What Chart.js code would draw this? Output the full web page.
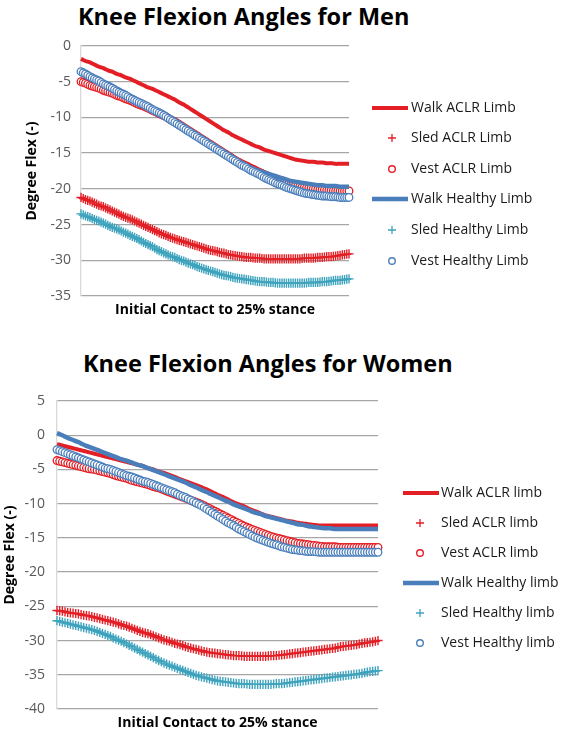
<!DOCTYPE html>
<html>
<head>
<meta charset="utf-8">
<script src="https://cdn.jsdelivr.net/npm/chart.js@4.4.1/dist/chart.umd.min.js"></script>
<style>
  html, body { margin: 0; padding: 0; background: #fff; }
  body { width: 565px; height: 732px; position: relative; overflow: hidden; }
  .title { position: absolute; font: bold 23.5px "Open Sans", sans-serif; line-height: 24px; color: #000; white-space: nowrap; }
  canvas { position: absolute; left: 0; }
</style>
</head>
<body>
<div class="title" id="menTitle" style="left:78px; top:4px;">Knee Flexion Angles for Men</div>
<div class="title" id="womenTitle" style="left:83px; top:351px;">Knee Flexion Angles for Women</div>
<canvas id="menChart" width="565" height="320" style="top:0"></canvas>
<canvas id="womenChart" width="565" height="412" style="top:320px"></canvas>
<script>
// Knee flexion, initial contact to 25% stance (121 samples per curve)

const stancePoints = [0,1,2,3,4,5,6,7,8,9,10,11,12,13,14,15,16,17,18,19,20,21,22,23,24,25,26,27,28,29,
  30,31,32,33,34,35,36,37,38,39,40,41,42,43,44,45,46,47,48,49,50,51,52,53,54,55,56,57,58,59,
  60,61,62,63,64,65,66,67,68,69,70,71,72,73,74,75,76,77,78,79,80,81,82,83,84,85,86,87,88,89,
  90,91,92,93,94,95,96,97,98,99,100,101,102,103,104,105,106,107,108,109,110,111,112,113,114,115,116,117,118,119,120];

const menLabels = ['Walk ACLR Limb', 'Sled ACLR Limb', 'Vest ACLR Limb', 'Walk Healthy Limb', 'Sled Healthy Limb', 'Vest Healthy Limb'];
const womenLabels = ['Walk ACLR limb', 'Sled ACLR limb', 'Vest ACLR limb', 'Walk Healthy limb', 'Sled Healthy limb', 'Vest Healthy limb'];

const menYRange = [-35, 0];
const womenYRange = [-40, 5];
const yStep = 5;

// Men
const menWalkAclr = [
  -1.8,-1.95,-2.1,-2.2,-2.3,-2.45,-2.6,-2.75,-2.9,-3.0,
  -3.1,-3.25,-3.4,-3.5,-3.6,-3.75,-3.9,-4.0,-4.1,-4.25,
  -4.4,-4.5,-4.6,-4.75,-4.9,-5.05,-5.2,-5.35,-5.5,-5.65,
  -5.8,-5.9,-6.0,-6.15,-6.3,-6.45,-6.6,-6.75,-6.9,-7.05,
  -7.2,-7.35,-7.5,-7.7,-7.9,-8.05,-8.2,-8.4,-8.6,-8.8,
  -9.0,-9.2,-9.4,-9.6,-9.8,-10.0,-10.2,-10.4,-10.6,-10.8,
  -11.0,-11.2,-11.4,-11.6,-11.8,-11.95,-12.1,-12.3,-12.5,-12.65,
  -12.8,-12.95,-13.1,-13.25,-13.4,-13.55,-13.7,-13.85,-14.0,-14.1,
  -14.2,-14.35,-14.5,-14.6,-14.7,-14.8,-14.9,-15.0,-15.1,-15.2,
  -15.3,-15.4,-15.5,-15.6,-15.7,-15.8,-15.9,-15.95,-16.0,-16.05,
  -16.1,-16.15,-16.2,-16.2,-16.2,-16.25,-16.3,-16.3,-16.3,-16.35,
  -16.4,-16.4,-16.4,-16.45,-16.5,-16.5,-16.5,-16.5,-16.5,-16.5,
  -16.5];
const menSledAclr = [
  -21.2,-21.35,-21.5,-21.6,-21.7,-21.85,-22.0,-22.15,-22.3,-22.4,
  -22.5,-22.65,-22.8,-22.95,-23.1,-23.25,-23.4,-23.55,-23.7,-23.85,
  -24.0,-24.1,-24.2,-24.35,-24.5,-24.65,-24.8,-24.95,-25.1,-25.25,
  -25.4,-25.55,-25.7,-25.85,-26.0,-26.15,-26.3,-26.4,-26.5,-26.65,
  -26.8,-26.9,-27.0,-27.1,-27.2,-27.3,-27.4,-27.5,-27.6,-27.7,
  -27.8,-27.9,-28.0,-28.1,-28.2,-28.3,-28.4,-28.5,-28.6,-28.65,
  -28.7,-28.8,-28.9,-28.95,-29.0,-29.1,-29.2,-29.25,-29.3,-29.35,
  -29.4,-29.45,-29.5,-29.55,-29.6,-29.6,-29.6,-29.65,-29.7,-29.7,
  -29.7,-29.75,-29.8,-29.8,-29.8,-29.8,-29.8,-29.8,-29.8,-29.8,
  -29.8,-29.8,-29.8,-29.8,-29.8,-29.8,-29.8,-29.8,-29.8,-29.75,
  -29.7,-29.7,-29.7,-29.7,-29.7,-29.65,-29.6,-29.6,-29.6,-29.55,
  -29.5,-29.5,-29.5,-29.45,-29.4,-29.35,-29.3,-29.25,-29.2,-29.15,
  -29.1];
const menVestAclr = [
  -5.0,-5.1,-5.2,-5.35,-5.5,-5.6,-5.7,-5.8,-5.9,-6.05,
  -6.2,-6.3,-6.4,-6.5,-6.6,-6.75,-6.9,-7.0,-7.1,-7.25,
  -7.4,-7.5,-7.6,-7.75,-7.9,-8.05,-8.2,-8.3,-8.4,-8.55,
  -8.7,-8.85,-9.0,-9.15,-9.3,-9.45,-9.6,-9.75,-9.9,-10.1,
  -10.3,-10.45,-10.6,-10.8,-11.0,-11.2,-11.4,-11.6,-11.8,-12.0,
  -12.2,-12.4,-12.6,-12.8,-13.0,-13.2,-13.4,-13.6,-13.8,-14.0,
  -14.2,-14.4,-14.6,-14.8,-15.0,-15.2,-15.4,-15.6,-15.8,-16.0,
  -16.2,-16.35,-16.5,-16.65,-16.8,-16.95,-17.1,-17.25,-17.4,-17.55,
  -17.7,-17.85,-18.0,-18.15,-18.3,-18.4,-18.5,-18.65,-18.8,-18.9,
  -19.0,-19.1,-19.2,-19.3,-19.4,-19.5,-19.6,-19.65,-19.7,-19.75,
  -19.8,-19.85,-19.9,-19.95,-20.0,-20.05,-20.1,-20.1,-20.1,-20.15,
  -20.2,-20.2,-20.2,-20.25,-20.3,-20.3,-20.3,-20.3,-20.3,-20.3,
  -20.3];
const menWalkHealthy = [
  -3.5,-3.65,-3.8,-4.0,-4.2,-4.35,-4.5,-4.65,-4.8,-5.0,
  -5.2,-5.35,-5.5,-5.65,-5.8,-6.0,-6.2,-6.35,-6.5,-6.65,
  -6.8,-7.0,-7.2,-7.35,-7.5,-7.65,-7.8,-7.95,-8.1,-8.25,
  -8.4,-8.6,-8.8,-8.95,-9.1,-9.25,-9.4,-9.55,-9.7,-9.9,
  -10.1,-10.3,-10.5,-10.7,-10.9,-11.1,-11.3,-11.5,-11.7,-11.9,
  -12.1,-12.3,-12.5,-12.7,-12.9,-13.1,-13.3,-13.5,-13.7,-13.9,
  -14.1,-14.3,-14.5,-14.7,-14.9,-15.1,-15.3,-15.5,-15.7,-15.85,
  -16.0,-16.2,-16.4,-16.55,-16.7,-16.85,-17.0,-17.15,-17.3,-17.4,
  -17.5,-17.6,-17.7,-17.8,-17.9,-18.0,-18.1,-18.2,-18.3,-18.4,
  -18.5,-18.6,-18.7,-18.8,-18.9,-18.95,-19.0,-19.05,-19.1,-19.15,
  -19.2,-19.25,-19.3,-19.35,-19.4,-19.45,-19.5,-19.5,-19.5,-19.55,
  -19.6,-19.6,-19.6,-19.6,-19.6,-19.65,-19.7,-19.7,-19.7,-19.7,
  -19.7];
const menSledHealthy = [
  -23.5,-23.65,-23.8,-23.9,-24.0,-24.15,-24.3,-24.4,-24.5,-24.65,
  -24.8,-24.95,-25.1,-25.25,-25.4,-25.5,-25.6,-25.75,-25.9,-26.05,
  -26.2,-26.35,-26.5,-26.65,-26.8,-26.95,-27.1,-27.3,-27.5,-27.65,
  -27.8,-27.95,-28.1,-28.3,-28.5,-28.65,-28.8,-28.95,-29.1,-29.25,
  -29.4,-29.5,-29.6,-29.75,-29.9,-30.0,-30.1,-30.25,-30.4,-30.5,
  -30.6,-30.75,-30.9,-31.0,-31.1,-31.2,-31.3,-31.4,-31.5,-31.6,
  -31.7,-31.8,-31.9,-32.0,-32.1,-32.15,-32.2,-32.3,-32.4,-32.45,
  -32.5,-32.55,-32.6,-32.65,-32.7,-32.75,-32.8,-32.85,-32.9,-32.95,
  -33.0,-33.0,-33.0,-33.05,-33.1,-33.1,-33.1,-33.15,-33.2,-33.2,
  -33.2,-33.2,-33.2,-33.2,-33.2,-33.2,-33.2,-33.2,-33.2,-33.2,
  -33.2,-33.15,-33.1,-33.1,-33.1,-33.1,-33.1,-33.05,-33.0,-33.0,
  -33.0,-32.95,-32.9,-32.85,-32.8,-32.8,-32.8,-32.75,-32.7,-32.65,
  -32.6];
const menVestHealthy = [
  -3.6,-3.75,-3.9,-4.1,-4.3,-4.45,-4.6,-4.75,-4.9,-5.1,
  -5.3,-5.45,-5.6,-5.75,-5.9,-6.1,-6.3,-6.45,-6.6,-6.75,
  -6.9,-7.1,-7.3,-7.45,-7.6,-7.75,-7.9,-8.05,-8.2,-8.35,
  -8.5,-8.7,-8.9,-9.05,-9.2,-9.35,-9.5,-9.7,-9.9,-10.1,
  -10.3,-10.5,-10.7,-10.9,-11.1,-11.3,-11.5,-11.7,-11.9,-12.1,
  -12.3,-12.5,-12.7,-12.9,-13.1,-13.3,-13.5,-13.7,-13.9,-14.1,
  -14.3,-14.5,-14.7,-14.9,-15.1,-15.3,-15.5,-15.7,-15.9,-16.1,
  -16.3,-16.5,-16.7,-16.85,-17.0,-17.2,-17.4,-17.55,-17.7,-17.85,
  -18.0,-18.2,-18.4,-18.55,-18.7,-18.85,-19.0,-19.15,-19.3,-19.4,
  -19.5,-19.65,-19.8,-19.9,-20.0,-20.1,-20.2,-20.3,-20.4,-20.5,
  -20.6,-20.65,-20.7,-20.75,-20.8,-20.85,-20.9,-20.95,-21.0,-21.0,
  -21.0,-21.05,-21.1,-21.1,-21.1,-21.15,-21.2,-21.2,-21.2,-21.2,
  -21.2];

// Women
const womenWalkAclr = [
  -1.3,-1.4,-1.5,-1.6,-1.7,-1.8,-1.9,-2.0,-2.1,-2.2,
  -2.3,-2.4,-2.5,-2.6,-2.7,-2.8,-2.9,-3.0,-3.1,-3.2,
  -3.3,-3.4,-3.5,-3.6,-3.7,-3.8,-3.9,-4.0,-4.1,-4.2,
  -4.3,-4.4,-4.5,-4.65,-4.8,-4.9,-5.0,-5.15,-5.3,-5.4,
  -5.5,-5.65,-5.8,-5.95,-6.1,-6.25,-6.4,-6.55,-6.7,-6.85,
  -7.0,-7.15,-7.3,-7.45,-7.6,-7.75,-7.9,-8.1,-8.3,-8.5,
  -8.7,-8.85,-9.0,-9.2,-9.4,-9.6,-9.8,-9.95,-10.1,-10.25,
  -10.4,-10.6,-10.8,-10.95,-11.1,-11.25,-11.4,-11.55,-11.7,-11.8,
  -11.9,-12.0,-12.1,-12.2,-12.3,-12.4,-12.5,-12.55,-12.6,-12.7,
  -12.8,-12.85,-12.9,-12.95,-13.0,-13.05,-13.1,-13.15,-13.2,-13.2,
  -13.2,-13.2,-13.2,-13.2,-13.2,-13.2,-13.2,-13.2,-13.2,-13.2,
  -13.2,-13.2,-13.2,-13.2,-13.2,-13.2,-13.2,-13.2,-13.2,-13.2,
  -13.2];
const womenSledAclr = [
  -25.6,-25.65,-25.7,-25.8,-25.9,-25.95,-26.0,-26.05,-26.1,-26.2,
  -26.3,-26.35,-26.4,-26.5,-26.6,-26.7,-26.8,-26.9,-27.0,-27.1,
  -27.2,-27.3,-27.4,-27.55,-27.7,-27.8,-27.9,-28.05,-28.2,-28.35,
  -28.5,-28.65,-28.8,-28.9,-29.0,-29.15,-29.3,-29.45,-29.6,-29.75,
  -29.9,-30.0,-30.1,-30.25,-30.4,-30.5,-30.6,-30.75,-30.9,-31.0,
  -31.1,-31.2,-31.3,-31.4,-31.5,-31.6,-31.7,-31.75,-31.8,-31.85,
  -31.9,-31.95,-32.0,-32.05,-32.1,-32.15,-32.2,-32.2,-32.2,-32.25,
  -32.3,-32.3,-32.3,-32.3,-32.3,-32.3,-32.3,-32.3,-32.3,-32.25,
  -32.2,-32.2,-32.2,-32.15,-32.1,-32.05,-32.0,-31.95,-31.9,-31.85,
  -31.8,-31.75,-31.7,-31.65,-31.6,-31.55,-31.5,-31.45,-31.4,-31.35,
  -31.3,-31.25,-31.2,-31.15,-31.1,-31.0,-30.9,-30.85,-30.8,-30.75,
  -30.7,-30.65,-30.6,-30.5,-30.4,-30.35,-30.3,-30.25,-30.2,-30.1,
  -30.0];
const womenVestAclr = [
  -3.7,-3.8,-3.9,-4.0,-4.1,-4.2,-4.3,-4.4,-4.5,-4.6,
  -4.7,-4.8,-4.9,-4.95,-5.0,-5.1,-5.2,-5.3,-5.4,-5.5,
  -5.6,-5.75,-5.9,-6.0,-6.1,-6.2,-6.3,-6.45,-6.6,-6.7,
  -6.8,-6.9,-7.0,-7.1,-7.2,-7.35,-7.5,-7.6,-7.7,-7.85,
  -8.0,-8.15,-8.3,-8.45,-8.6,-8.75,-8.9,-9.05,-9.2,-9.35,
  -9.5,-9.65,-9.8,-9.95,-10.1,-10.3,-10.5,-10.7,-10.9,-11.1,
  -11.3,-11.5,-11.7,-11.9,-12.1,-12.3,-12.5,-12.7,-12.9,-13.1,
  -13.3,-13.45,-13.6,-13.75,-13.9,-14.05,-14.2,-14.35,-14.5,-14.65,
  -14.8,-14.9,-15.0,-15.1,-15.2,-15.3,-15.4,-15.5,-15.6,-15.7,
  -15.8,-15.85,-15.9,-15.95,-16.0,-16.05,-16.1,-16.15,-16.2,-16.25,
  -16.3,-16.3,-16.3,-16.3,-16.3,-16.35,-16.4,-16.4,-16.4,-16.4,
  -16.4,-16.4,-16.4,-16.4,-16.4,-16.4,-16.4,-16.4,-16.4,-16.4,
  -16.4];
const womenWalkHealthy = [
  0.3,0.15,0.0,-0.2,-0.4,-0.55,-0.7,-0.85,-1.0,-1.2,
  -1.4,-1.55,-1.7,-1.85,-2.0,-2.15,-2.3,-2.45,-2.6,-2.75,
  -2.9,-3.05,-3.2,-3.35,-3.5,-3.6,-3.7,-3.85,-4.0,-4.15,
  -4.3,-4.4,-4.5,-4.65,-4.8,-4.95,-5.1,-5.25,-5.4,-5.55,
  -5.7,-5.85,-6.0,-6.15,-6.3,-6.45,-6.6,-6.75,-6.9,-7.1,
  -7.3,-7.45,-7.6,-7.8,-8.0,-8.15,-8.3,-8.5,-8.7,-8.85,
  -9.0,-9.2,-9.4,-9.55,-9.7,-9.9,-10.1,-10.25,-10.4,-10.55,
  -10.7,-10.85,-11.0,-11.15,-11.3,-11.4,-11.5,-11.65,-11.8,-11.9,
  -12.0,-12.1,-12.2,-12.3,-12.4,-12.5,-12.6,-12.7,-12.8,-12.9,
  -13.0,-13.05,-13.1,-13.2,-13.3,-13.35,-13.4,-13.45,-13.5,-13.55,
  -13.6,-13.6,-13.6,-13.65,-13.7,-13.7,-13.7,-13.7,-13.7,-13.7,
  -13.7,-13.7,-13.7,-13.7,-13.7,-13.7,-13.7,-13.7,-13.7,-13.7,
  -13.7];
const womenSledHealthy = [
  -27.1,-27.2,-27.3,-27.4,-27.5,-27.6,-27.7,-27.8,-27.9,-28.0,
  -28.1,-28.2,-28.3,-28.4,-28.5,-28.65,-28.8,-28.95,-29.1,-29.25,
  -29.4,-29.6,-29.8,-29.95,-30.1,-30.3,-30.5,-30.7,-30.9,-31.1,
  -31.3,-31.5,-31.7,-31.9,-32.1,-32.3,-32.5,-32.7,-32.9,-33.1,
  -33.3,-33.45,-33.6,-33.75,-33.9,-34.05,-34.2,-34.35,-34.5,-34.65,
  -34.8,-34.95,-35.1,-35.2,-35.3,-35.4,-35.5,-35.6,-35.7,-35.8,
  -35.9,-35.95,-36.0,-36.05,-36.1,-36.15,-36.2,-36.25,-36.3,-36.3,
  -36.3,-36.35,-36.4,-36.4,-36.4,-36.4,-36.4,-36.4,-36.4,-36.4,
  -36.4,-36.35,-36.3,-36.3,-36.3,-36.25,-36.2,-36.15,-36.1,-36.05,
  -36.0,-35.95,-35.9,-35.85,-35.8,-35.75,-35.7,-35.65,-35.6,-35.55,
  -35.5,-35.45,-35.4,-35.35,-35.3,-35.25,-35.2,-35.15,-35.1,-35.05,
  -35.0,-34.95,-34.9,-34.85,-34.8,-34.7,-34.6,-34.55,-34.5,-34.45,
  -34.4];
const womenVestHealthy = [
  -2.1,-2.25,-2.4,-2.55,-2.7,-2.85,-3.0,-3.15,-3.3,-3.45,
  -3.6,-3.75,-3.9,-4.05,-4.2,-4.35,-4.5,-4.65,-4.8,-4.9,
  -5.0,-5.15,-5.3,-5.45,-5.6,-5.75,-5.9,-6.0,-6.1,-6.25,
  -6.4,-6.55,-6.7,-6.8,-6.9,-7.05,-7.2,-7.35,-7.5,-7.65,
  -7.8,-7.95,-8.1,-8.25,-8.4,-8.6,-8.8,-8.95,-9.1,-9.3,
  -9.5,-9.7,-9.9,-10.1,-10.3,-10.55,-10.8,-11.05,-11.3,-11.55,
  -11.8,-12.05,-12.3,-12.55,-12.8,-13.0,-13.2,-13.45,-13.7,-13.9,
  -14.1,-14.3,-14.5,-14.7,-14.9,-15.05,-15.2,-15.35,-15.5,-15.65,
  -15.8,-15.9,-16.0,-16.15,-16.3,-16.4,-16.5,-16.6,-16.7,-16.75,
  -16.8,-16.85,-16.9,-16.95,-17.0,-17.0,-17.0,-17.05,-17.1,-17.1,
  -17.1,-17.1,-17.1,-17.1,-17.1,-17.1,-17.1,-17.1,-17.1,-17.1,
  -17.1,-17.1,-17.1,-17.1,-17.1,-17.1,-17.1,-17.1,-17.1,-17.1,
  -17.1];

const RED = '#e31e25';
const BLUE = '#4a7ebb';
const TEAL = '#3ea3bd';

// legend drawn to the right of the plot, one row per dataset
const sideLegend = {
  id: 'sideLegend',
  afterDraw(chart, args, opts) {
    const ctx = chart.ctx;
    ctx.save();
    ctx.font = '14px "Open Sans", sans-serif';
    ctx.textBaseline = 'middle';
    ctx.textAlign = 'left';
    chart.data.datasets.forEach((ds, i) => {
      const y = opts.rows[i];
      ctx.strokeStyle = ds.borderColor;
      if (ds.showLine) {
        ctx.lineWidth = ds.borderWidth;
        ctx.beginPath();
        ctx.moveTo(opts.lineFrom, y);
        ctx.lineTo(opts.lineTo, y);
        ctx.stroke();
      } else if (ds.pointStyle === 'cross') {
        ctx.lineWidth = 1.3;
        ctx.beginPath();
        ctx.moveTo(opts.markerX - 4, y); ctx.lineTo(opts.markerX + 4, y);
        ctx.moveTo(opts.markerX, y - 4); ctx.lineTo(opts.markerX, y + 4);
        ctx.stroke();
      } else {
        ctx.lineWidth = 1.4;
        ctx.beginPath();
        ctx.arc(opts.markerX, y, 3.3, 0, Math.PI * 2);
        ctx.stroke();
      }
      ctx.fillStyle = '#1a1a1a';
      ctx.fillText(ds.label, opts.textX, y);
    });
    ctx.restore();
  }
};

function makeDatasets(labels, series) {
  const styles = [
    { color: RED, kind: 'line', width: 4 },
    { color: RED, kind: 'cross' },
    { color: RED, kind: 'circle' },
    { color: BLUE, kind: 'line', width: 4.5 },
    { color: TEAL, kind: 'cross' },
    { color: BLUE, kind: 'circle' }
  ];
  return series.map((data, i) => {
    const s = styles[i];
    const ds = {
      label: labels[i],
      data: data,
      borderColor: s.color,
      order: 6 - i
    };
    if (s.kind === 'line') {
      Object.assign(ds, { showLine: true, borderWidth: s.width, pointRadius: 0, tension: 0.3 });
    } else if (s.kind === 'cross') {
      Object.assign(ds, { showLine: false, pointStyle: 'cross', pointRadius: 4.6, pointBorderWidth: 1.4, pointBorderColor: s.color });
    } else {
      Object.assign(ds, { showLine: false, pointStyle: 'circle', pointRadius: 3.8, pointBorderWidth: 1.3,
        pointBorderColor: s.color, pointBackgroundColor: '#ffffff' });
    }
    return ds;
  });
}

function makeChart(id, labels, series, yRange, box) {
  const ctx = document.getElementById(id);
  return new Chart(ctx, {
    type: 'line',
    data: { labels: stancePoints, datasets: makeDatasets(labels, series) },
    options: {
      responsive: false,
      animation: false,
      devicePixelRatio: 1,
      layout: { padding: { left: box.padLeft, right: box.padRight, top: box.padTop, bottom: 0 } },
      plugins: {
        legend: { display: false },
        tooltip: { enabled: false },
        sideLegend: box.legend
      },
      scales: {
        x: {
          type: 'category',
          offset: false,
          grid: { display: false },
          border: { display: false },
          ticks: { display: false },
          title: {
            display: true,
            text: 'Initial Contact to 25% stance',
            color: '#000',
            font: { family: 'Open Sans', size: 14, weight: 'bold' },
            padding: { top: 0, bottom: box.xTitlePad }
          },
          afterFit(scale) { scale.height = box.xHeight; }
        },
        y: {
          min: yRange[0],
          max: yRange[1],
          grid: { color: '#a6a6a6', lineWidth: 1.3, drawTicks: false },
          border: { display: true, color: '#d9d9d9', width: 1.3 },
          ticks: {
            stepSize: yStep,
            color: '#595959',
            padding: box.tickPad,
            font: { family: 'Open Sans', size: 14 }
          },
          title: {
            display: true,
            text: 'Degree Flex (-)',
            color: '#000',
            font: { family: 'Open Sans', size: 14, weight: 'bold' },
            padding: { top: 0, bottom: 0 }
          },
          afterFit(scale) { scale.width = box.yWidth; }
        }
      }
    },
    plugins: [sideLegend]
  });
}

makeChart('menChart', menLabels,
  [menWalkAclr, menSledAclr, menVestAclr, menWalkHealthy, menSledHealthy, menVestHealthy],
  menYRange,
  { padLeft: 24, yWidth: 57, padRight: 216, padTop: 46, xHeight: 24, xTitlePad: 2, tickPad: 10,
    legend: { rows: [108, 138, 169, 199, 230, 261], lineFrom: 372, lineTo: 408, markerX: 392, textX: 411 } });

makeChart('womenChart', womenLabels,
  [womenWalkAclr, womenSledAclr, womenVestAclr, womenWalkHealthy, womenSledHealthy, womenVestHealthy],
  womenYRange,
  { padLeft: 2, yWidth: 55, padRight: 187, padTop: 81, xHeight: 23, xTitlePad: 1, tickPad: 12,
    legend: { rows: [173, 203, 233, 263, 293, 323], lineFrom: 403, lineTo: 439, markerX: 420, textX: 441 } });
</script>
</body>
</html>
